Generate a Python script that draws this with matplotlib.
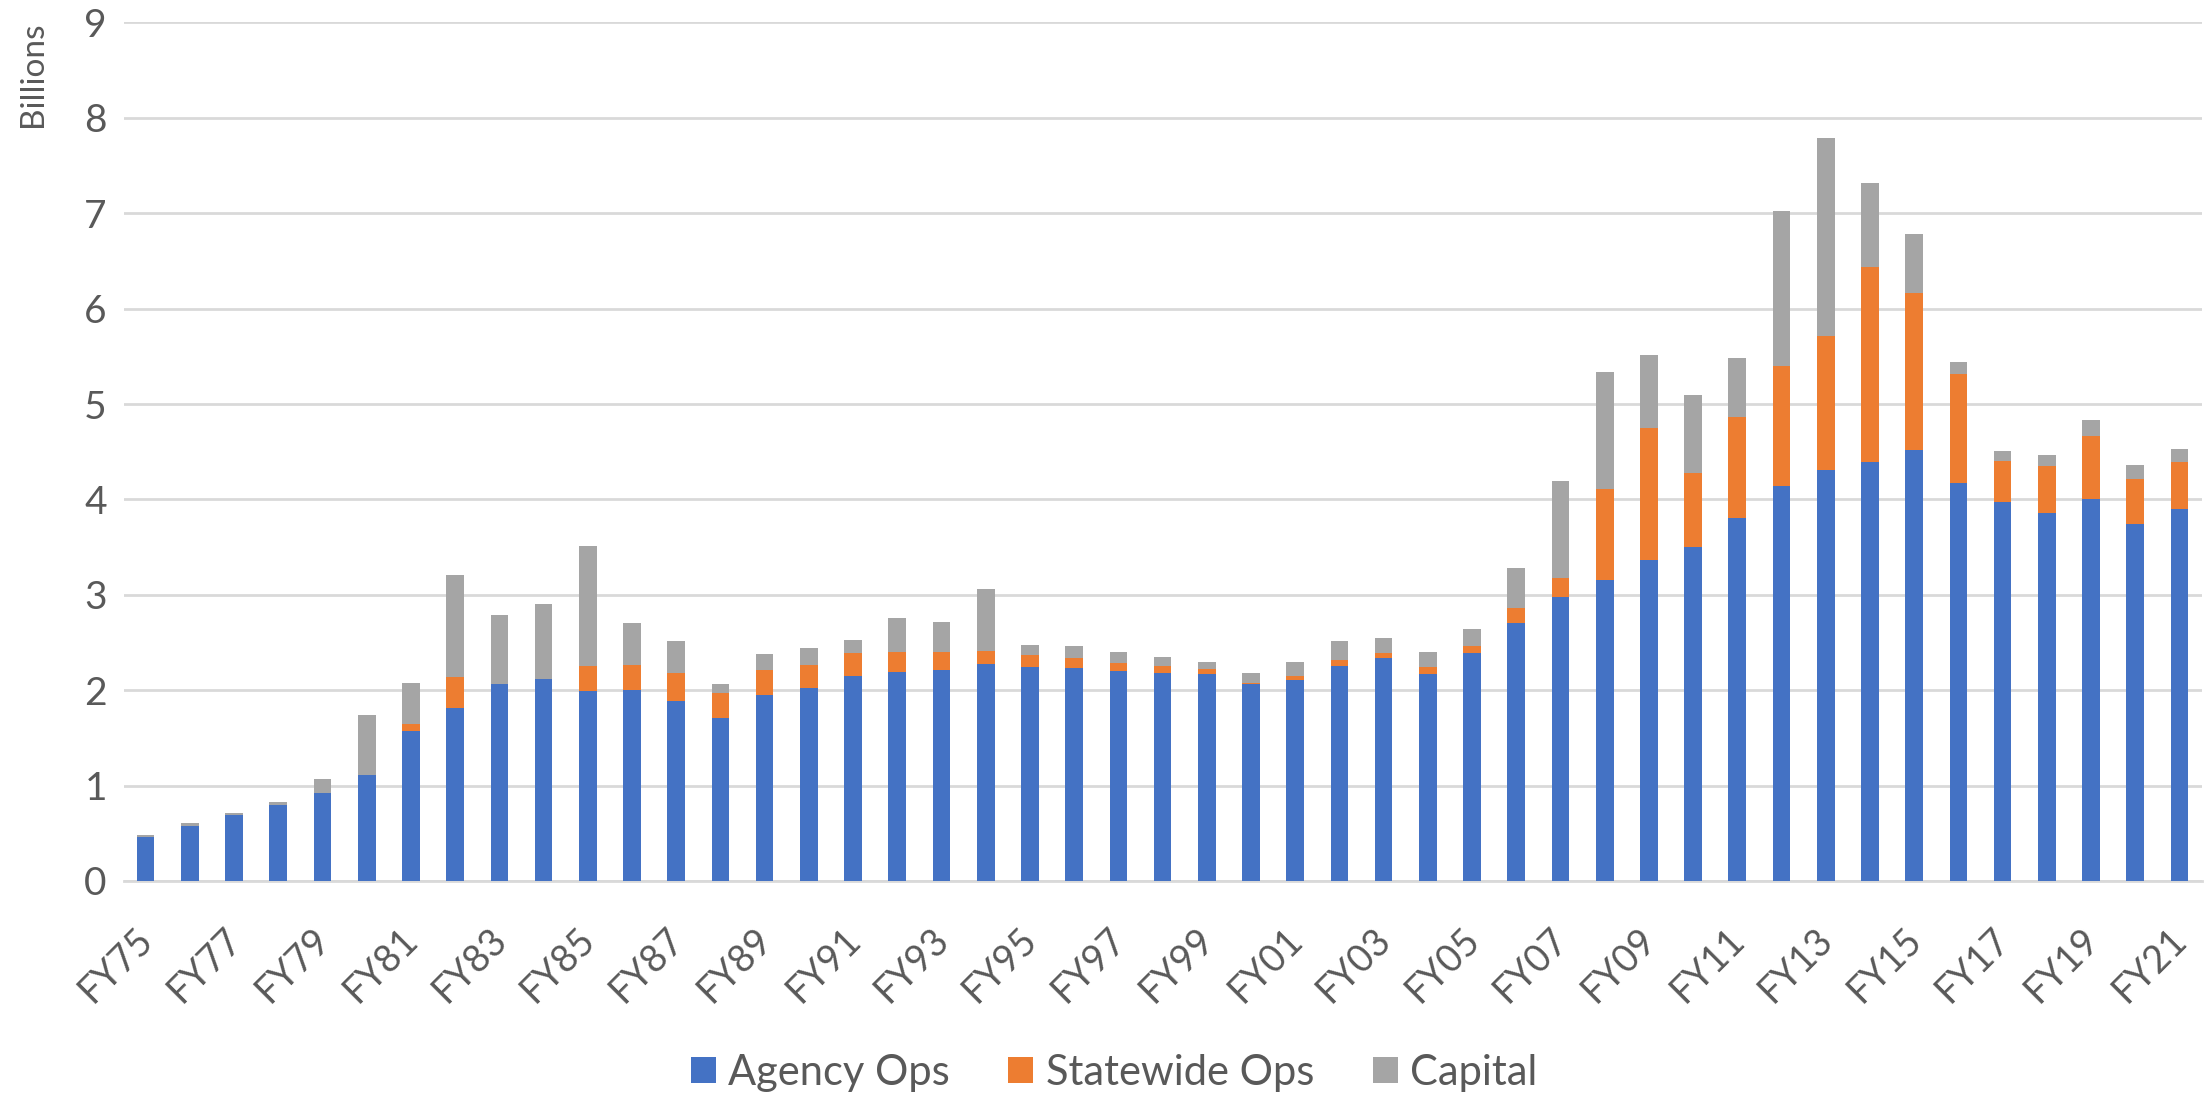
import matplotlib
matplotlib.use("Agg")
import matplotlib.pyplot as plt
import matplotlib.transforms as mtransforms
import numpy as np

plt.rcParams['font.family'] = ['Lato', 'DejaVu Sans']

years = ['FY%02d' % (y % 100) for y in range(1975, 2022)]

# billions (stack tops converted to segment sizes below)
agency = [0.46, 0.58, 0.69, 0.80, 0.92, 1.11, 1.57, 1.81, 2.06, 2.12,
          1.99, 2.00, 1.89, 1.71, 1.95, 2.02, 2.15, 2.19, 2.21, 2.27,
          2.24, 2.23, 2.20, 2.18, 2.17, 2.06, 2.11, 2.25, 2.34, 2.17,
          2.39, 2.70, 2.98, 3.15, 3.36, 3.50, 3.81, 4.14, 4.31, 4.39,
          4.52, 4.17, 3.97, 3.86, 4.00, 3.74, 3.90]
statewide_top = [0.46, 0.58, 0.69, 0.80, 0.92, 1.11, 1.64, 2.14, 2.06, 2.12,
                 2.25, 2.26, 2.18, 1.97, 2.21, 2.26, 2.39, 2.40, 2.40, 2.41,
                 2.37, 2.34, 2.28, 2.25, 2.22, 2.08, 2.15, 2.32, 2.39, 2.24,
                 2.46, 2.86, 3.18, 4.11, 4.75, 4.28, 4.86, 5.40, 5.71, 6.44,
                 6.16, 5.31, 4.40, 4.35, 4.66, 4.21, 4.39]
total = [0.48, 0.61, 0.71, 0.83, 1.07, 1.74, 2.07, 3.21, 2.79, 2.90,
         3.51, 2.70, 2.52, 2.06, 2.38, 2.44, 2.53, 2.76, 2.71, 3.06,
         2.47, 2.46, 2.40, 2.35, 2.30, 2.18, 2.29, 2.51, 2.55, 2.40,
         2.64, 3.28, 4.19, 5.34, 5.51, 5.09, 5.48, 7.02, 7.79, 7.32,
         6.78, 5.44, 4.51, 4.47, 4.83, 4.36, 4.53]

agency = np.array(agency)
statewide = np.array(statewide_top) - agency
capital = np.array(total) - np.array(statewide_top)

fig = plt.figure(figsize=(22.06, 10.97), dpi=100)
ax = fig.add_axes([0.056, 0.197, 0.942, 0.7825])

x = np.arange(len(years))
w = 0.4
ax.bar(x, agency, w, color='#4472C4', label='Agency Ops', zorder=3)
ax.bar(x, statewide, w, bottom=agency, color='#ED7D31', label='Statewide Ops', zorder=3)
ax.bar(x, capital, w, bottom=agency + statewide, color='#A5A5A5', label='Capital', zorder=3)

ax.set_xlim(-0.5, len(years) - 0.5)
ax.set_ylim(0, 9)
ax.set_yticks(range(10))
ax.yaxis.grid(True, color='#D9D9D9', linewidth=2, zorder=0)
for s in ['top', 'right', 'left']:
    ax.spines[s].set_visible(False)
ax.spines['bottom'].set_color('#D9D9D9')
ax.spines['bottom'].set_linewidth(2)

ax.set_xticks(x[::2])
ax.set_xticklabels(years[::2], rotation=45, ha='right', va='top',
                   rotation_mode='anchor')
ax.tick_params(axis='y', length=0, labelsize=28, labelcolor='#595959', pad=12)
ax.tick_params(axis='x', length=0, labelsize=27, labelcolor='#595959', pad=29)

# slanted labels end a little left of their bar, as in the original
shift = mtransforms.ScaledTranslation(-8 / 72, 0, fig.dpi_scale_trans)
for lab in ax.get_xticklabels():
    lab.set_transform(lab.get_transform() + shift)

fig.text(0.015, 0.932, 'Billions', rotation=90, va='center', ha='center',
         fontsize=24, color='#595959')

fig.legend(loc='center', bbox_to_anchor=(0.505, 0.022), ncol=3, frameon=False,
           fontsize=30, labelcolor='#595959', handlelength=0.6, handleheight=0.6,
           handletextpad=0.3, columnspacing=1.4)

fig.savefig('out.png', dpi=100)
